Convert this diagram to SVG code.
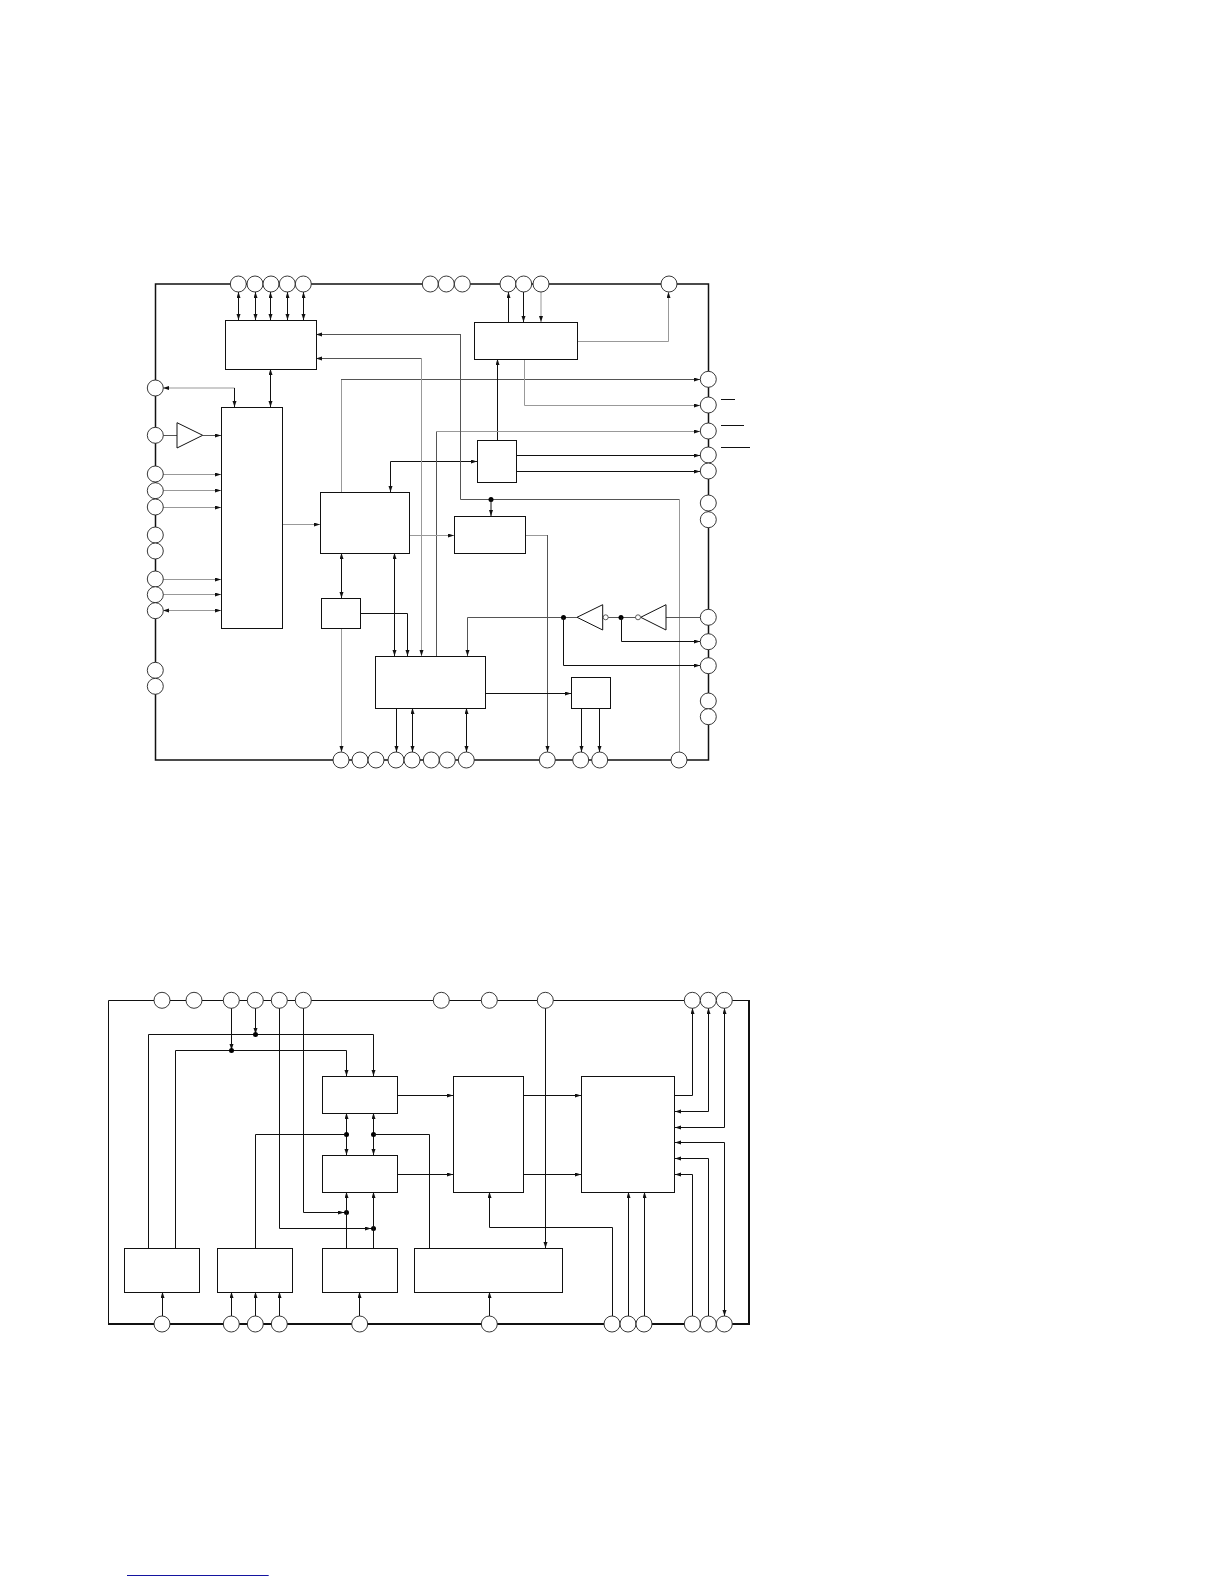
<svg xmlns="http://www.w3.org/2000/svg" width="1224" height="1584" viewBox="0 0 1224 1584">
<style>
.f{fill:none;stroke:#111;stroke-width:1.5}
.f2{fill:none;stroke:#111;stroke-width:1}
.f3{fill:none;stroke:#111;stroke-width:2}
.c path,.k{fill:none;stroke:#111;stroke-width:1}
.c path.g{stroke:#999}
.c path.d{stroke:#555}
.c circle{fill:#000;stroke:none}
.b{fill:#fff;stroke:#111;stroke-width:1}
.p{fill:#fff;stroke:#222;stroke-width:.9}
.t{fill:#fff;stroke:#111;stroke-width:1}
.i{fill:#fff;stroke:#333;stroke-width:.8}
</style>
<defs>
<marker id="a" markerUnits="userSpaceOnUse" markerWidth="7" markerHeight="5" refX="6" refY="2" orient="auto-start-reverse"><polygon points="0,0 6,2 0,4" fill="#111"/></marker>
</defs>
<g id="frame1"><path class="f" d="M155.5 284H708.5V760H155.5Z"/></g>
<g id="frame2"><path class="f2" d="M749 1000.5H108.5V1324"/><path class="f3" d="M108 1324H749V1000"/></g>
<g id="connectors" class="c">
<path d="M238.5 292V320" marker-start="url(#a)" marker-end="url(#a)"/>
<path d="M255.5 292V320" marker-start="url(#a)" marker-end="url(#a)"/>
<path d="M270.5 292V320" marker-start="url(#a)" marker-end="url(#a)"/>
<path d="M287.5 292V320" marker-start="url(#a)" marker-end="url(#a)"/>
<path d="M303.5 292V320" marker-start="url(#a)" marker-end="url(#a)"/>
<path d="M270.5 369V407" marker-start="url(#a)" marker-end="url(#a)"/>
<path class="g" d="M234.5 388H163" marker-end="url(#a)"/>
<path d="M234.5 388V407" marker-end="url(#a)"/>
<path class="d" d="M163 435.5H177"/>
<path class="d" d="M203 435.5H221" marker-end="url(#a)"/>
<path class="g" d="M163 474.5H221" marker-end="url(#a)"/>
<path class="g" d="M163 490.5H221" marker-end="url(#a)"/>
<path class="g" d="M163 507.5H221" marker-end="url(#a)"/>
<path class="g" d="M163 579.5H221" marker-end="url(#a)"/>
<path class="g" d="M163 594.5H221" marker-end="url(#a)"/>
<path class="g" d="M163 610.5H221" marker-start="url(#a)" marker-end="url(#a)"/>
<path class="g" d="M283 524.5H320" marker-end="url(#a)"/>
<path d="M341.5 553V598" marker-start="url(#a)" marker-end="url(#a)"/>
<path class="g" d="M341.5 628V752" marker-end="url(#a)"/>
<path class="g" d="M341.5 492V379.5"/>
<path class="d" d="M341 379.5H700" marker-end="url(#a)"/>
<path d="M390.5 492V461.5H477" marker-start="url(#a)" marker-end="url(#a)"/>
<path d="M497.5 440V359" marker-end="url(#a)"/>
<path d="M508.5 322V292" marker-end="url(#a)"/>
<path d="M523.5 292V322" marker-end="url(#a)"/>
<path class="g" d="M541 292V322" marker-end="url(#a)"/>
<path class="g" d="M578 341.5H668.5V292" marker-end="url(#a)"/>
<path class="g" d="M524.5 359V405.5H700" marker-end="url(#a)"/>
<path class="d" d="M436.5 656V431"/>
<path class="g" d="M436 431.5H700" marker-end="url(#a)"/>
<path d="M517 455.5H700" marker-end="url(#a)"/>
<path d="M517 471.5H700" marker-end="url(#a)"/>
<path class="d" d="M460.5 334.5H316" marker-end="url(#a)"/>
<path class="d" d="M460.5 334V499.5H679"/>
<path class="g" d="M679.5 499V752"/>
<circle cx="491" cy="499.5" r="2.5"/>
<path d="M491 499.5V516" marker-end="url(#a)"/>
<path class="d" d="M421 358.5H316" marker-end="url(#a)"/>
<path class="g" d="M421.5 358V656" marker-end="url(#a)"/>
<path class="g" d="M409 535.5H454" marker-end="url(#a)"/>
<path class="g" d="M526 535.5H547"/>
<path class="d" d="M547.5 535V752" marker-end="url(#a)"/>
<path d="M394.5 553V656" marker-start="url(#a)" marker-end="url(#a)"/>
<path d="M360 613.5H407.5V656" marker-end="url(#a)"/>
<path class="d" d="M563.5 617.5H467.5V656" marker-end="url(#a)"/>
<path class="d" d="M563.5 617.5H577"/>
<path class="d" d="M603 617.5H638"/>
<path class="d" d="M666 617.5H700"/>
<circle cx="563.5" cy="617.5" r="2.5"/>
<circle cx="621" cy="617.5" r="2.5"/>
<path d="M621.5 617.5V641.5H700" marker-end="url(#a)"/>
<path d="M563.5 617.5V665.5H700" marker-end="url(#a)"/>
<path d="M486 693.5H571" marker-end="url(#a)"/>
<path d="M581.5 708V752" marker-end="url(#a)"/>
<path d="M599.5 708V752" marker-end="url(#a)"/>
<path d="M396.5 708V752" marker-end="url(#a)"/>
<path d="M412.5 708V752" marker-start="url(#a)" marker-end="url(#a)"/>
<path d="M466.5 708V752" marker-start="url(#a)" marker-end="url(#a)"/>
<path class="k" d="M721 399.5H735M721 425.5H744M721 447.5H750"/>
<path d="M148.5 1248V1034.5H373.5V1076" marker-end="url(#a)"/>
<path d="M175.5 1248V1050.5H346.5V1076" marker-end="url(#a)"/>
<path d="M255.5 1008V1034" marker-end="url(#a)"/>
<circle cx="255.5" cy="1034.5" r="2.5"/>
<path d="M231.5 1008V1050" marker-end="url(#a)"/>
<circle cx="231.5" cy="1050.5" r="2.5"/>
<path d="M279.5 1008V1228.5H371" marker-end="url(#a)"/>
<circle cx="373.5" cy="1228.5" r="2.5"/>
<path d="M303.5 1008V1212.5H344" marker-end="url(#a)"/>
<circle cx="346.5" cy="1212.5" r="2.5"/>
<path d="M346.5 1248V1192" marker-end="url(#a)"/>
<path d="M373.5 1248V1192" marker-end="url(#a)"/>
<path d="M346.5 1113V1155" marker-start="url(#a)" marker-end="url(#a)"/>
<path d="M373.5 1113V1155" marker-start="url(#a)" marker-end="url(#a)"/>
<circle cx="346.5" cy="1134.5" r="2.5"/>
<circle cx="373.5" cy="1134.5" r="2.5"/>
<path d="M255.5 1248V1134.5H346"/>
<path d="M429.5 1248V1134.5H374"/>
<path d="M398 1095.5H453" marker-end="url(#a)"/>
<path d="M398 1174.5H453" marker-end="url(#a)"/>
<path d="M523 1095.5H581" marker-end="url(#a)"/>
<path d="M523 1174.5H581" marker-end="url(#a)"/>
<path d="M545.5 1008V1248" marker-end="url(#a)"/>
<path d="M675 1095.5H692.5V1008" marker-end="url(#a)"/>
<path d="M708.5 1008V1111.5H675" marker-start="url(#a)" marker-end="url(#a)"/>
<path d="M724.5 1008V1127.5H675" marker-start="url(#a)" marker-end="url(#a)"/>
<path d="M724.5 1316V1142.5H675" marker-start="url(#a)" marker-end="url(#a)"/>
<path d="M708.5 1316V1158.5H675" marker-end="url(#a)"/>
<path d="M692.5 1316V1174.5H675" marker-end="url(#a)"/>
<path d="M628.5 1316V1192" marker-end="url(#a)"/>
<path d="M644.5 1316V1192" marker-end="url(#a)"/>
<path d="M612.5 1316V1227.5H489.5V1192" marker-end="url(#a)"/>
<path d="M162.5 1316V1292" marker-end="url(#a)"/>
<path d="M231.5 1316V1292" marker-end="url(#a)"/>
<path d="M255.5 1316V1292" marker-end="url(#a)"/>
<path d="M279.5 1316V1292" marker-end="url(#a)"/>
<path d="M359.5 1316V1292" marker-end="url(#a)"/>
<path d="M489.5 1316V1292" marker-end="url(#a)"/>
</g>
<g id="box-a"><rect class="b" x="225.5" y="320.5" width="91" height="49"/></g>
<g id="box-b"><rect class="b" x="221.5" y="407.5" width="61" height="221"/></g>
<g id="box-c"><rect class="b" x="320.5" y="492.5" width="89" height="61"/></g>
<g id="box-d"><rect class="b" x="321.5" y="598.5" width="39" height="30"/></g>
<g id="box-e"><rect class="b" x="477.5" y="440.5" width="39" height="42"/></g>
<g id="box-f"><rect class="b" x="474.5" y="322.5" width="103" height="37"/></g>
<g id="box-g"><rect class="b" x="375.5" y="656.5" width="110" height="52"/></g>
<g id="box-h"><rect class="b" x="454.5" y="516.5" width="71" height="37"/></g>
<g id="box-i"><rect class="b" x="571.5" y="677.5" width="39" height="31"/></g>
<g id="buf1"><polygon class="t" points="177,422.7 177,448 202.7,435.3"/></g>
<g id="inv1"><polygon class="t" points="577,617.3 602.7,604.7 602.7,630"/><circle class="i" cx="605.7" cy="617.3" r="2.5"/></g>
<g id="inv2"><polygon class="t" points="640.7,617.3 666,604.7 666,630"/><circle class="i" cx="638" cy="617.3" r="2.5"/></g>
<g id="box-j"><rect class="b" x="124.5" y="1248.5" width="75" height="44"/></g>
<g id="box-k"><rect class="b" x="217.5" y="1248.5" width="75" height="44"/></g>
<g id="box-l"><rect class="b" x="322.5" y="1248.5" width="75" height="44"/></g>
<g id="box-m"><rect class="b" x="414.5" y="1248.5" width="148" height="44"/></g>
<g id="box-n"><rect class="b" x="322.5" y="1076.5" width="75" height="37"/></g>
<g id="box-o"><rect class="b" x="322.5" y="1155.5" width="75" height="37"/></g>
<g id="box-p"><rect class="b" x="453.5" y="1076.5" width="70" height="116"/></g>
<g id="box-q"><rect class="b" x="581.5" y="1076.5" width="93" height="116"/></g>
<g id="pins-upper">
<g id="u1"><circle class="p" cx="238.3" cy="284" r="8"/></g>
<g id="u2"><circle class="p" cx="255" cy="284" r="8"/></g>
<g id="u3"><circle class="p" cx="271" cy="284" r="8"/></g>
<g id="u4"><circle class="p" cx="287.3" cy="284" r="8"/></g>
<g id="u5"><circle class="p" cx="303.3" cy="284" r="8"/></g>
<g id="u6"><circle class="p" cx="430.3" cy="284" r="8"/></g>
<g id="u7"><circle class="p" cx="446.3" cy="284" r="8"/></g>
<g id="u8"><circle class="p" cx="462.3" cy="284" r="8"/></g>
<g id="u9"><circle class="p" cx="508" cy="284" r="8"/></g>
<g id="u10"><circle class="p" cx="523.7" cy="284" r="8"/></g>
<g id="u11"><circle class="p" cx="541" cy="284" r="8"/></g>
<g id="u12"><circle class="p" cx="669" cy="284" r="8"/></g>
<g id="u13"><circle class="p" cx="155.3" cy="388" r="8"/></g>
<g id="u14"><circle class="p" cx="155.3" cy="435.3" r="8"/></g>
<g id="u15"><circle class="p" cx="155.3" cy="474" r="8"/></g>
<g id="u16"><circle class="p" cx="155.3" cy="490.7" r="8"/></g>
<g id="u17"><circle class="p" cx="155.3" cy="507" r="8"/></g>
<g id="u18"><circle class="p" cx="155.3" cy="535" r="8"/></g>
<g id="u19"><circle class="p" cx="155.3" cy="551" r="8"/></g>
<g id="u20"><circle class="p" cx="155.3" cy="579" r="8"/></g>
<g id="u21"><circle class="p" cx="155.3" cy="594.7" r="8"/></g>
<g id="u22"><circle class="p" cx="155.3" cy="610.7" r="8"/></g>
<g id="u23"><circle class="p" cx="155.3" cy="670.3" r="8"/></g>
<g id="u24"><circle class="p" cx="155.3" cy="686.3" r="8"/></g>
<g id="u25"><circle class="p" cx="708.3" cy="379.3" r="8"/></g>
<g id="u26"><circle class="p" cx="708.3" cy="405" r="8"/></g>
<g id="u27"><circle class="p" cx="708.3" cy="431" r="8"/></g>
<g id="u28"><circle class="p" cx="708.3" cy="455" r="8"/></g>
<g id="u29"><circle class="p" cx="708.3" cy="471" r="8"/></g>
<g id="u30"><circle class="p" cx="708.3" cy="503" r="8"/></g>
<g id="u31"><circle class="p" cx="708.3" cy="519.7" r="8"/></g>
<g id="u32"><circle class="p" cx="708.3" cy="617.3" r="8"/></g>
<g id="u33"><circle class="p" cx="708.3" cy="641.7" r="8"/></g>
<g id="u34"><circle class="p" cx="708.3" cy="665.7" r="8"/></g>
<g id="u35"><circle class="p" cx="708.3" cy="701" r="8"/></g>
<g id="u36"><circle class="p" cx="708.3" cy="716.7" r="8"/></g>
<g id="u37"><circle class="p" cx="341" cy="760" r="8"/></g>
<g id="u38"><circle class="p" cx="360" cy="760" r="8"/></g>
<g id="u39"><circle class="p" cx="376" cy="760" r="8"/></g>
<g id="u40"><circle class="p" cx="396" cy="760" r="8"/></g>
<g id="u41"><circle class="p" cx="412" cy="760" r="8"/></g>
<g id="u42"><circle class="p" cx="431.3" cy="760" r="8"/></g>
<g id="u43"><circle class="p" cx="447.3" cy="760" r="8"/></g>
<g id="u44"><circle class="p" cx="466.3" cy="760" r="8"/></g>
<g id="u45"><circle class="p" cx="547.3" cy="760" r="8"/></g>
<g id="u46"><circle class="p" cx="580.7" cy="760" r="8"/></g>
<g id="u47"><circle class="p" cx="599.7" cy="760" r="8"/></g>
<g id="u48"><circle class="p" cx="679" cy="760" r="8"/></g>
</g>
<g id="pins-lower">
<g id="l1"><circle class="p" cx="162" cy="1000.3" r="8"/></g>
<g id="l2"><circle class="p" cx="194" cy="1000.3" r="8"/></g>
<g id="l3"><circle class="p" cx="231.3" cy="1000.3" r="8"/></g>
<g id="l4"><circle class="p" cx="255.3" cy="1000.3" r="8"/></g>
<g id="l5"><circle class="p" cx="279.3" cy="1000.3" r="8"/></g>
<g id="l6"><circle class="p" cx="303.3" cy="1000.3" r="8"/></g>
<g id="l7"><circle class="p" cx="441.3" cy="1000.3" r="8"/></g>
<g id="l8"><circle class="p" cx="489.3" cy="1000.3" r="8"/></g>
<g id="l9"><circle class="p" cx="545.3" cy="1000.3" r="8"/></g>
<g id="l10"><circle class="p" cx="692.3" cy="1000.3" r="8"/></g>
<g id="l11"><circle class="p" cx="708.3" cy="1000.3" r="8"/></g>
<g id="l12"><circle class="p" cx="724.3" cy="1000.3" r="8"/></g>
<g id="l13"><circle class="p" cx="162" cy="1324" r="8"/></g>
<g id="l14"><circle class="p" cx="231.3" cy="1324" r="8"/></g>
<g id="l15"><circle class="p" cx="255.3" cy="1324" r="8"/></g>
<g id="l16"><circle class="p" cx="279.3" cy="1324" r="8"/></g>
<g id="l17"><circle class="p" cx="359.7" cy="1324" r="8"/></g>
<g id="l18"><circle class="p" cx="489.3" cy="1324" r="8"/></g>
<g id="l19"><circle class="p" cx="612" cy="1324" r="8"/></g>
<g id="l20"><circle class="p" cx="628" cy="1324" r="8"/></g>
<g id="l21"><circle class="p" cx="644" cy="1324" r="8"/></g>
<g id="l22"><circle class="p" cx="692.3" cy="1324" r="8"/></g>
<g id="l23"><circle class="p" cx="708.3" cy="1324" r="8"/></g>
<g id="l24"><circle class="p" cx="724.3" cy="1324" r="8"/></g>
</g>
<g id="footer-rule"><path d="M127 1575.5H268.7" fill="none" stroke="#1414a0" stroke-width="1"/></g>
</svg>
